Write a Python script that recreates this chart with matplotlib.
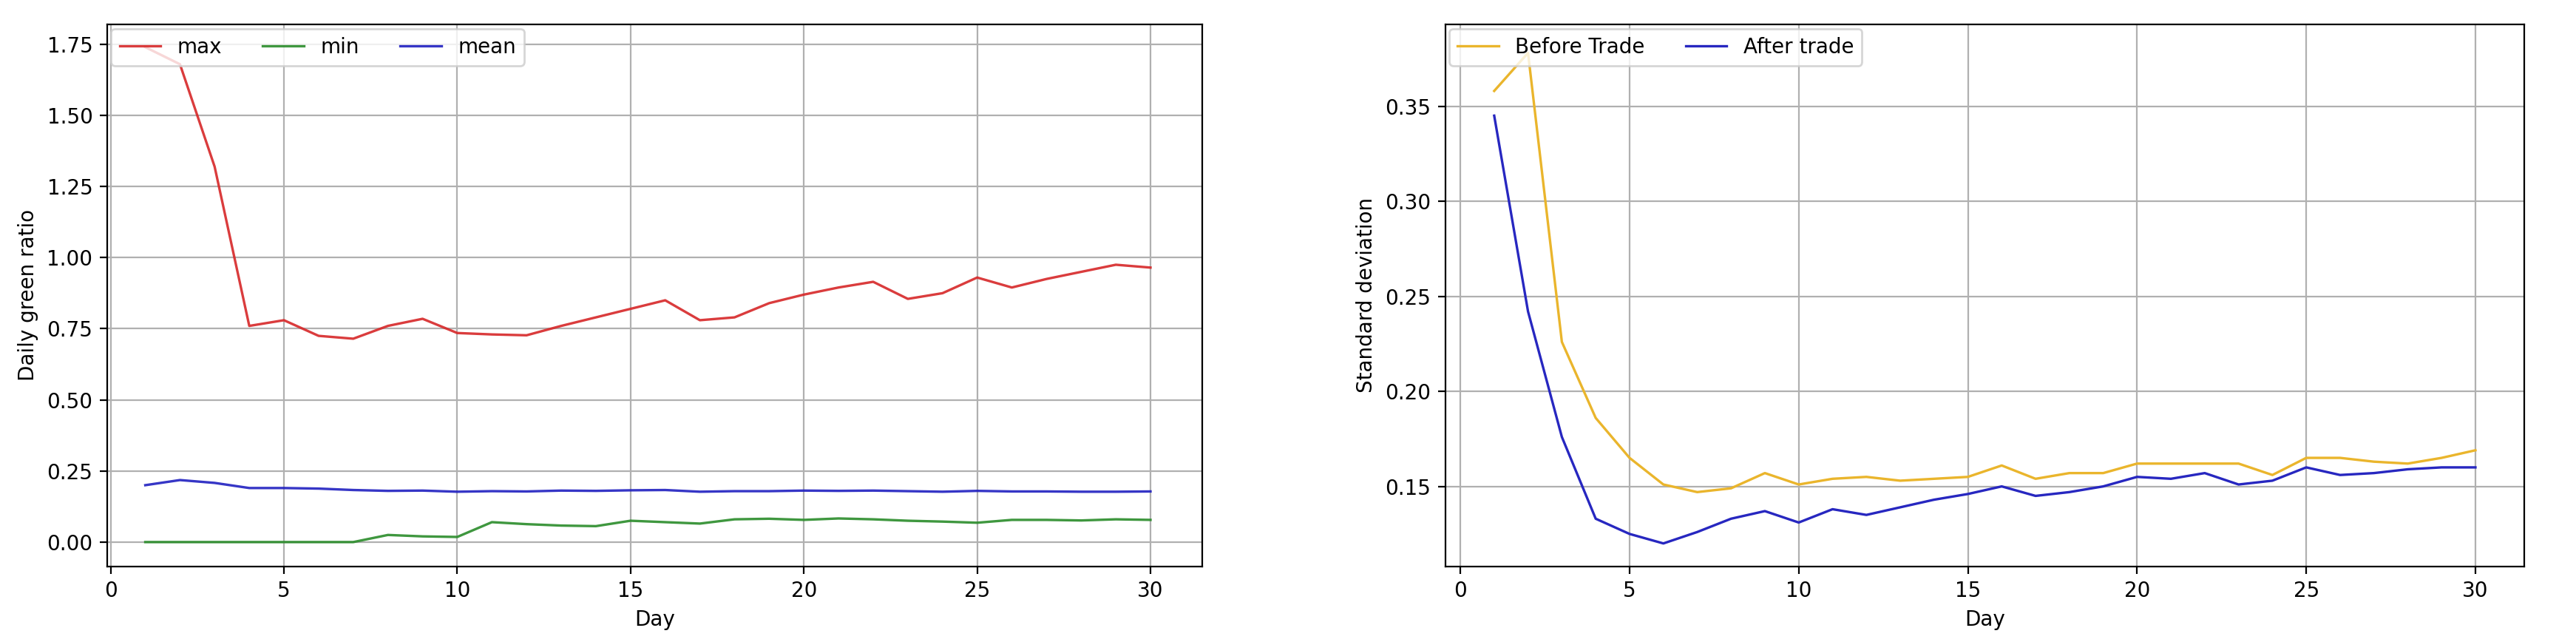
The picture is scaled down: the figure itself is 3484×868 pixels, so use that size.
import matplotlib
matplotlib.use("Agg")
import matplotlib.pyplot as plt

days = list(range(1, 31))
gmax = [1.74,1.68,1.32,0.76,0.78,0.725,0.715,0.76,0.785,0.735,0.73,0.727,0.76,0.79,0.82,0.85,0.78,0.79,0.84,0.87,0.895,0.915,0.855,0.875,0.93,0.895,0.925,0.95,0.975,0.965]
gmin = [0,0,0,0,0,0,0,0.025,0.02,0.018,0.07,0.063,0.058,0.056,0.075,0.07,0.065,0.08,0.082,0.078,0.083,0.08,0.075,0.072,0.068,0.078,0.078,0.076,0.08,0.078]
gmean = [0.2,0.218,0.208,0.19,0.19,0.188,0.183,0.18,0.181,0.177,0.179,0.178,0.181,0.18,0.182,0.183,0.177,0.179,0.179,0.181,0.18,0.181,0.179,0.177,0.18,0.178,0.178,0.177,0.177,0.178]
before = [0.358,0.378,0.226,0.186,0.165,0.151,0.147,0.149,0.157,0.151,0.154,0.155,0.153,0.154,0.155,0.161,0.154,0.157,0.157,0.162,0.162,0.162,0.162,0.156,0.165,0.165,0.163,0.162,0.165,0.169]
after = [0.345,0.242,0.176,0.133,0.125,0.12,0.126,0.133,0.137,0.131,0.138,0.135,0.139,0.143,0.146,0.15,0.145,0.147,0.15,0.155,0.154,0.157,0.151,0.153,0.16,0.156,0.157,0.159,0.16,0.16]

fig = plt.figure(figsize=(17.42, 4.34), dpi=200)
ax1 = fig.add_axes([0.0416, 0.118, 0.4252, 0.844])
ax2 = fig.add_axes([0.561, 0.118, 0.419, 0.844])

ax1.plot(days, gmax, color='#d62728', alpha=0.9, lw=1.2, label='max')
ax1.plot(days, gmin, color='#2a8c2a', alpha=0.9, lw=1.2, label='min')
ax1.plot(days, gmean, color='#2020c0', alpha=0.9, lw=1.2, label='mean')
ax1.set_ylim(-0.085, 1.82)
ax1.set_xlim(-0.1, 31.5)
ax1.set_xlabel('Day')
ax1.set_ylabel('Daily green ratio')
ax1.grid(True)
ax1.legend(loc='upper left', ncol=3, borderaxespad=0.2)

ax2.plot(days, before, color='#eab52c', lw=1.2, label='Before Trade')
ax2.plot(days, after, color='#2727c0', lw=1.2, label='After trade')
ax2.set_ylim(0.108, 0.393)
ax2.set_xlim(-0.45, 31.45)
ax2.set_xlabel('Day')
ax2.set_ylabel('Standard deviation')
ax2.grid(True)
ax2.legend(loc='upper left', ncol=2, borderaxespad=0.2)

for ax in (ax1, ax2):
    ax.set_xticks([0,5,10,15,20,25,30])

fig.savefig('out.png', dpi=200)
